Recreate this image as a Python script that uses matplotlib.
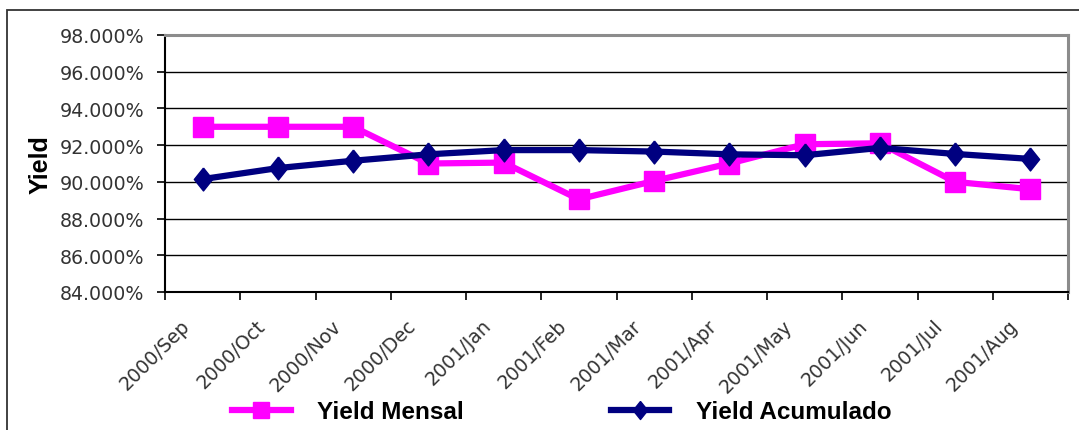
import numpy as np
import matplotlib.pyplot as plt
from matplotlib.lines import Line2D
from matplotlib.patches import Rectangle
from matplotlib.ticker import FuncFormatter, FixedLocator
import matplotlib.transforms as mtransforms

# Data (percent)
months = ["2000/Sep", "2000/Oct", "2000/Nov", "2000/Dec", "2001/Jan", "2001/Feb",
          "2001/Mar", "2001/Apr", "2001/May", "2001/Jun", "2001/Jul", "2001/Aug"]
yield_mensal = [93.0, 93.0, 93.0, 91.0, 91.05, 89.05, 90.05, 91.0, 92.05, 92.1, 90.0, 89.6]
yield_acumulado = [90.15, 90.75, 91.15, 91.5, 91.73, 91.73, 91.65, 91.5, 91.45, 91.85, 91.52, 91.25]

magenta = "#FF00FF"
navy = "#000080"
tick_color = "#333333"

fig = plt.figure(figsize=(10.79, 4.31), dpi=100)
ax = fig.add_axes([165 / 1079, 1 - 293 / 431, (1068 - 165) / 1079, (293 - 36) / 431])

x = np.arange(len(months))
diamond = [(0, 1), (0.8, 0), (0, -1), (-0.8, 0), (0, 1)]

# series
ax.plot(x, yield_mensal, color=magenta, lw=4.5, marker="s", ms=14, zorder=3)
ax.plot(x, yield_acumulado, color=navy, lw=4.5, marker=diamond, ms=16.5, zorder=4)

ax.set_xlim(-0.5, len(months) - 0.5)
ax.set_ylim(84, 98)
ax.set_yticks(np.arange(84, 98.1, 2))
ax.yaxis.set_major_formatter(FuncFormatter(lambda v, p: "%.3f%%" % v))

# gridlines
ax.set_axisbelow(True)
ax.yaxis.grid(True, color="black", lw=1)

# spines
for s in ["left", "bottom"]:
    ax.spines[s].set_color("black")
    ax.spines[s].set_linewidth(1.5)
for s in ["top", "right"]:
    ax.spines[s].set_color("#8c8c8c")
    ax.spines[s].set_linewidth(2.2)

# y ticks
ax.tick_params(axis="y", direction="out", length=6, width=1.2, pad=9,
               labelsize=13.7, labelcolor=tick_color, color="black")
for lab in ax.get_yticklabels():
    lab.set_family("DejaVu Sans")

# x: tick marks on category boundaries, labels on categories
ax.xaxis.set_minor_locator(FixedLocator(np.arange(-0.5, len(months), 1.0)))
ax.set_xticks(x)
ax.set_xticklabels(months, rotation=45, ha="right", va="top", rotation_mode="anchor",
                   family="DejaVu Sans", fontsize=13.7, color=tick_color)
ax.tick_params(axis="x", which="major", length=0, pad=17)
ax.tick_params(axis="x", which="minor", direction="out", length=6, width=1.2, color="black")
shift = mtransforms.ScaledTranslation(-0.22, 0, fig.dpi_scale_trans)
for lab in ax.get_xticklabels():
    lab.set_transform(lab.get_transform() + shift)

ax.set_ylabel("Yield", family="Liberation Sans", fontweight="bold", fontsize=18)
ax.yaxis.set_label_coords(-112 / 903, 0.5)

# legend
handles = [Line2D([], [], color=magenta, lw=4.5, marker="s", ms=11),
           Line2D([], [], color=navy, lw=4.5, marker=diamond, ms=13)]
fig.legend(handles, ["Yield Mensal", "Yield Acumulado"], loc="center",
           bbox_to_anchor=(562 / 1079, 1 - 413 / 431), ncol=2, frameon=False,
           prop={"family": "Liberation Sans", "weight": "bold", "size": 17.5},
           handlelength=2.4, handletextpad=1.1, columnspacing=6.05)

# outer chart frame
fig.patches.append(Rectangle((7 / 1079, -0.1), 1.2, 1.1 - 11 / 431, transform=fig.transFigure,
                             fill=False, ec="#333333", lw=1.3))

fig.savefig("out.png", dpi=100)
